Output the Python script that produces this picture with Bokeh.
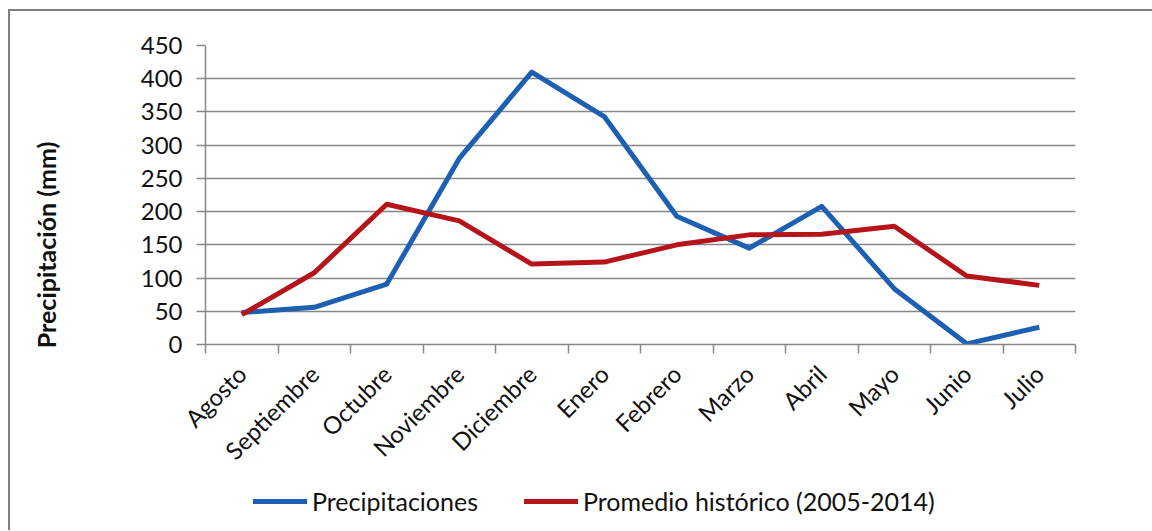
import numpy as np
from bokeh.plotting import figure
from bokeh.layouts import column
from bokeh.models import Range1d, FixedTicker, Legend, LegendItem, ColumnDataSource
from bokeh.embed import file_html
from bokeh.resources import INLINE

months = ["Agosto", "Septiembre", "Octubre", "Noviembre", "Diciembre", "Enero",
          "Febrero", "Marzo", "Abril", "Mayo", "Junio", "Julio"]
precipitaciones = [48, 56, 91, 280, 410, 343, 193, 145, 208, 84, 1, 26]
promedio = [45, 108, 211, 186, 121, 124, 150, 165, 166, 178, 103, 89]
y_ticks = [0, 50, 100, 150, 200, 250, 300, 350, 400, 450]
series_names = ["Precipitaciones", "Promedio histórico (2005-2014)"]
y_title = "Precipitación (mm)"

BLUE = "#1d5fb3"
RED = "#b5141a"
GRAY = "#878787"
FONT = "Lato"
LW = 5

xs = np.arange(len(months)) + 0.5
src = ColumnDataSource(dict(x=xs, p=precipitaciones, h=promedio))

p = figure(width=1142, height=467, output_backend="svg", toolbar_location=None,
           x_range=Range1d(0, len(months)), y_range=Range1d(0, 450),
           min_border_left=195, min_border_right=77, min_border_top=34,
           min_border_bottom=133)
p.outline_line_color = None
p.background_fill_color = "white"
p.border_fill_color = "white"

r1 = p.line("x", "p", source=src, line_color=BLUE, line_width=LW, line_join="round")
r2 = p.line("x", "h", source=src, line_color=RED, line_width=LW, line_join="round")

# y axis
p.yaxis.ticker = FixedTicker(ticks=y_ticks)
p.yaxis.axis_line_color = GRAY
p.yaxis.axis_line_width = 1.5
p.yaxis.major_tick_line_color = GRAY
p.yaxis.major_tick_line_width = 1.5
p.yaxis.major_tick_out = 9
p.yaxis.major_tick_in = 0
p.yaxis.minor_tick_line_color = None
p.yaxis.major_label_text_font = FONT
p.yaxis.major_label_text_font_size = "24px"
p.yaxis.major_label_text_color = "#111111"
p.yaxis.major_label_standoff = 14
# trailing en-spaces shift the centred label downwards, as in the original
p.yaxis.axis_label = y_title + "\u2002" * 8
p.yaxis.axis_label_text_font = FONT
p.yaxis.axis_label_text_font_style = "bold"
p.yaxis.axis_label_text_font_size = "25px"
p.yaxis.axis_label_text_color = "#111111"
p.yaxis.axis_label_standoff = 77

# x axis
p.xaxis.ticker = FixedTicker(ticks=list(xs), minor_ticks=list(range(len(months) + 1)))
p.xaxis.major_label_overrides = {float(x): m for x, m in zip(xs, months)}
p.xaxis.major_label_orientation = np.pi / 4
p.xaxis.major_tick_line_color = None
p.xaxis.major_tick_out = 0
p.xaxis.major_tick_in = 0
p.xaxis.minor_tick_line_color = GRAY
p.xaxis.minor_tick_line_width = 1.5
p.xaxis.minor_tick_out = 9
p.xaxis.minor_tick_in = 0
p.xaxis.axis_line_color = GRAY
p.xaxis.axis_line_width = 1.5
p.xaxis.major_label_text_font = FONT
p.xaxis.major_label_text_font_size = "24px"
p.xaxis.major_label_text_color = "#111111"
p.xaxis.major_label_standoff = 16

p.xgrid.grid_line_color = None
p.ygrid.ticker = FixedTicker(ticks=y_ticks)
p.ygrid.grid_line_color = GRAY
p.ygrid.grid_line_width = 1.5

# legend strip (proxy lines use the same data, kept out of view)
pl = figure(width=1142, height=52, output_backend="svg", toolbar_location=None,
            x_axis_location=None, y_axis_location=None,
            x_range=Range1d(0, len(months)), y_range=Range1d(1000, 1001),
            min_border_left=0, min_border_right=0, min_border_top=0, min_border_bottom=0)
pl.outline_line_color = None
pl.xgrid.visible = False
pl.ygrid.visible = False
l1 = pl.line("x", "p", source=src, line_color=BLUE, line_width=LW, line_cap="round")
l2 = pl.line("x", "h", source=src, line_color=RED, line_width=LW, line_cap="round")
legend = Legend(items=[LegendItem(label=series_names[0], renderers=[l1]),
                       LegendItem(label=series_names[1], renderers=[l2])],
                location=(48, 14), orientation="horizontal",
                label_text_font=FONT, label_text_font_size="25px",
                label_text_color="#111111",
                glyph_width=54, glyph_height=24, label_standoff=5, spacing=46,
                padding=0, margin=0, border_line_color=None,
                background_fill_alpha=0)
pl.add_layout(legend, "center")

layout = column(p, pl, spacing=0)
layout.styles = {"border-top": "2px solid #7f7f7f", "border-left": "2px solid #7f7f7f",
                 "margin-left": "8px", "margin-top": "9px"}

open("out.html", "w").write(file_html(layout, INLINE))
